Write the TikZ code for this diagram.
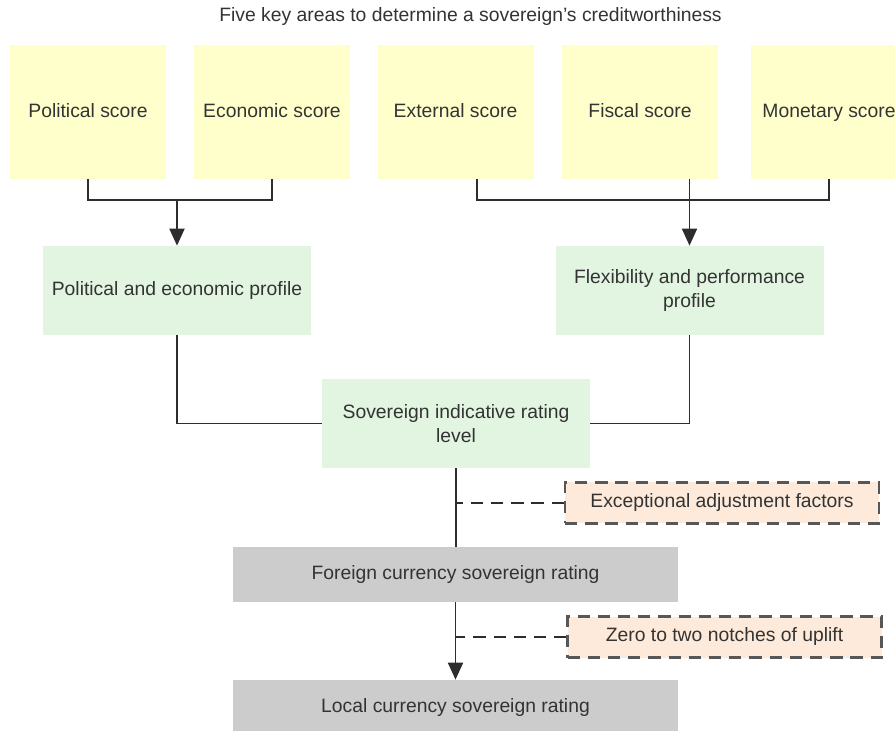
\documentclass[tikz,border=0pt]{standalone}
\usepackage{fontspec}
\setmainfont{Liberation Sans}
\usetikzlibrary{arrows.meta}
\definecolor{scoreyellow}{RGB}{255,255,204}
\definecolor{profilegreen}{RGB}{225,245,225}
\definecolor{ratinggrey}{RGB}{204,204,204}
\definecolor{factorpeach}{RGB}{253,234,218}
\definecolor{textgrey}{RGB}{51,51,51}
\definecolor{linegrey}{RGB}{45,45,45}

\begin{document}
\begin{tikzpicture}[font=\fontsize{11}{14}\selectfont,text=textgrey]

%
% Styles
%
\tikzstyle{score} = [rectangle,fill=scoreyellow,minimum width=3.12cm,minimum height=2.68cm,text height=1.6ex,text depth=0.4ex,inner sep=0pt]
\tikzstyle{profile} = [rectangle,fill=profilegreen,minimum width=5.36cm,minimum height=1.78cm,align=center,inner sep=0pt]
\tikzstyle{rating} = [rectangle,fill=ratinggrey,minimum width=8.9cm,minimum height=1.1cm,inner sep=0pt]
\tikzstyle{factor} = [rectangle,fill=factorpeach,draw=linegrey!80,line width=1.2pt,dash pattern=on 7pt off 4.5pt,minimum width=6.28cm,minimum height=0.82cm,inner sep=0pt]
\tikzstyle{link} = [draw=linegrey,line width=1.1pt]
\tikzstyle{flow} = [link,-{Triangle[length=0.34cm,width=0.3cm]}]
\tikzstyle{hint} = [link,dash pattern=on 7pt off 4.5pt]

\useasboundingbox (0,0) rectangle (17.9,-14.62);

\node (title) at (9.41,-0.34) {Five key areas to determine a sovereign's creditworthiness};

\node[score] (pol) at ( 1.76,-2.24) {Political score};
\node[score] (eco) at ( 5.44,-2.24) {Economic score};
\node[score] (ext) at ( 9.11,-2.24) {External score};
\node[score] (fis) at (12.80,-2.24) {Fiscal score};
\node[score] (mon) at (16.58,-2.24) {Monetary score};

\node[profile] (pep)  at ( 3.54,-5.81) {Political and economic profile};
\node[profile] (flex) at (13.79,-5.81) {Flexibility and performance\\profile};
\node[profile] (sir)  at ( 9.12,-8.47) {Sovereign indicative rating\\level};

\node[rating] (fcr) at (9.11,-11.49) {Foreign currency sovereign rating};
\node[rating] (lcr) at (9.11,-14.15) {Local currency sovereign rating};

\node[factor] (exc)  at (14.44,-10.06) {Exceptional adjustment factors};
\node[factor] (zero) at (14.49,-12.74) {Zero to two notches of uplift};

\coordinate (pejoin) at (3.54,-4.0);
\coordinate (fpjoin) at (13.79,-4.0);

\draw[link] (pol.south) |- (pejoin) -| (eco.south);
\draw[flow] (pejoin) -- (pep.north);
\draw[link] ([xshift=0.43cm]ext.south) |- (fpjoin) -| (mon.south);
\draw[flow] (flex.north |- fis.south) -- (flex.north);

\draw[link] (pep.south) |- (sir.west);
\draw[link] (flex.south) |- (sir.east);
\draw[link] (sir.south) -- (sir.south |- fcr.north);
\draw[hint] (exc.west) -- (exc.west -| sir.south);
\draw[flow] (fcr.south) -- (lcr.north);
\draw[hint] (zero.west) -- (zero.west -| fcr.south);

\end{tikzpicture}
\end{document}
